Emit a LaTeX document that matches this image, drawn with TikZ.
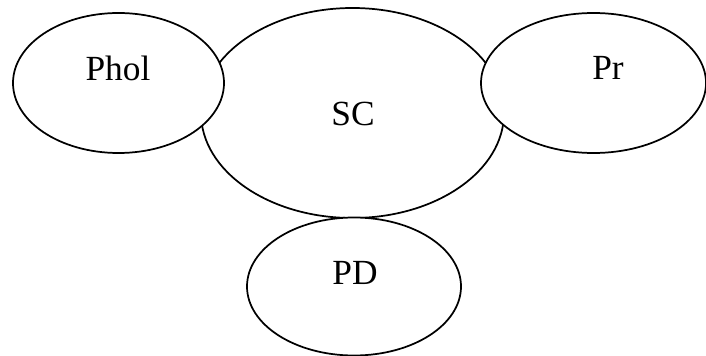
\documentclass[tikz,border=0pt]{standalone}
\usepackage{fontspec}
\setmainfont{Liberation Serif}
\usetikzlibrary{shapes.geometric}
\begin{document}
\begin{tikzpicture}[x=0.75pt,y=-0.75pt,
  blob/.style={draw=black,fill=white,ellipse,line width=1.3pt,inner sep=0pt},
  lbl/.style={font=\fontsize{26.5pt}{30pt}\selectfont,inner sep=0pt}]
\useasboundingbox (0,0) rectangle (706,356);
\node[blob,minimum width=303*0.75pt,minimum height=210*0.75pt] (sc) at (352.5,113) {};
\node[blob,minimum width=211*0.75pt,minimum height=140*0.75pt] (phol) at (118.5,83) {};
\node[blob,minimum width=225*0.75pt,minimum height=140*0.75pt] (pr) at (593.5,83) {};
\node[blob,minimum width=214*0.75pt,minimum height=138*0.75pt] (pd) at (354,286.5) {};
\node[lbl] (tphol) at (118,68) {Phol};
\node[lbl] (tsc) at (353,114) {SC};
\node[lbl] (tpr) at (608,68) {Pr};
\node[lbl] (tpd) at (355,273) {PD};
\end{tikzpicture}
\end{document}
